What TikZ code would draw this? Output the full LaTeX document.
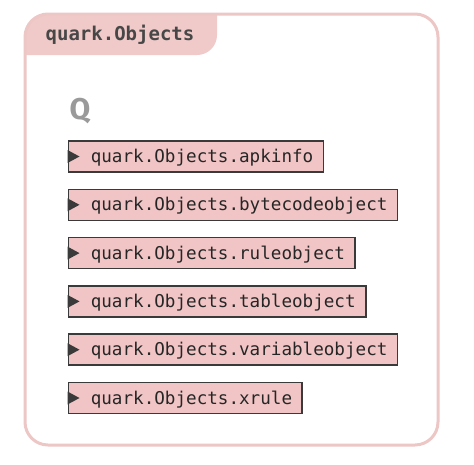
\documentclass[tikz,border=0pt]{standalone}
\usepackage{fontspec}
\setmonofont{DejaVu Sans Mono}
\newfontfamily\qfont{Fira Sans}
\definecolor{framepink}{HTML}{EDC6C6}
\definecolor{tabpink}{HTML}{F0C9C9}
\definecolor{boxpink}{HTML}{F1C5C5}
\definecolor{boxline}{HTML}{3A3A3A}
\definecolor{tabtext}{HTML}{474747}
\definecolor{qgray}{HTML}{9A9A9A}
\begin{document}
\begin{tikzpicture}[x=1pt,y=-1pt,
  objbox/.style={draw=boxline, fill=boxpink, line width=1.6pt, anchor=west,
    minimum height=31pt, inner ysep=0pt, inner xsep=0pt,
    text=black!85, font=\fontsize{17.6}{20}\ttfamily,
    text depth=0.25ex},
  tri/.style={fill=boxline}]
\useasboundingbox (0,0) rectangle (474,464);
% tab
\fill[tabpink] (25,55) -- (25,37) arc[start angle=180,end angle=270,radius=23] -- (217,14) -- (217,35) arc[start angle=0,end angle=90,radius=20] -- cycle;
% frame
\draw[framepink, line width=3pt, rounded corners=23pt] (25,14) rectangle (438,445);
\node[font=\fontsize{19}{22}\ttfamily\bfseries, text=tabtext] (tab) at (120,35) {quark.Objects};
\node[font=\fontsize{30}{34}\qfont\bfseries, text=qgray, anchor=west] (q) at (66,111) {Q};
% boxes
\foreach \i/\t in {0/apkinfo,1/bytecodeobject,2/ruleobject,3/tableobject,4/variableobject,5/xrule}{
  \node[objbox] (b\i) at (67.5,{156.5+48.3*\i}) {\hspace*{22.5pt}quark.Objects.\t\hspace*{10pt}};
  \fill[tri] ([yshift=-6.5pt]b\i.west) -- ([xshift=12pt]b\i.west) -- ([yshift=6.5pt]b\i.west) -- cycle;
}
\end{tikzpicture}
\end{document}
